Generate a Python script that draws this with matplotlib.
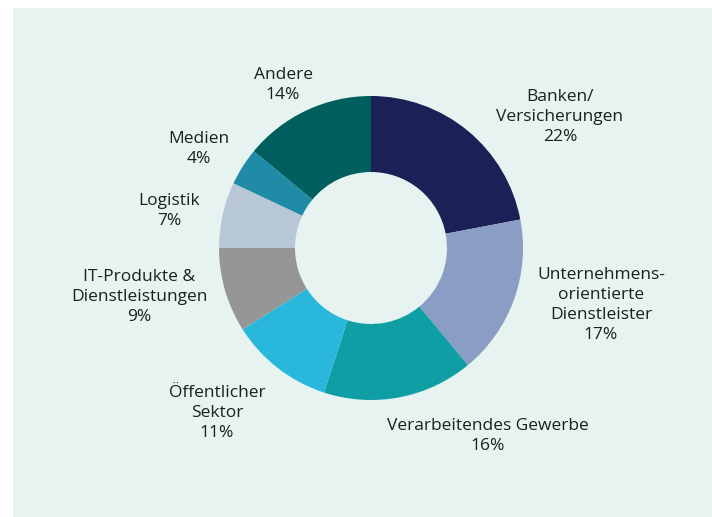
"""Donut chart: Verteilung nach Branchen."""

import matplotlib.pyplot as plt
from matplotlib.patches import Rectangle

plt.rcParams.update({
    "font.family": ["Open Sans", "DejaVu Sans"],
    "font.size": 12.5,
    "text.color": "#1e1e1e",
})

# ---------------------------------------------------------------------------
# Data
# ---------------------------------------------------------------------------
sectors = [
    "Banken/\nVersicherungen",
    "Unternehmens-\norientierte\nDienstleister",
    "Verarbeitendes Gewerbe",
    "Öffentlicher\nSektor",
    "IT-Produkte &\nDienstleistungen",
    "Logistik",
    "Medien",
    "Andere",
]
shares = [22, 17, 16, 11, 9, 7, 4, 14]

COLORS = [
    "#1b2157",  # Banken
    "#8a9dc4",  # Unternehmensorientierte DL
    "#0f9ea4",  # Verarbeitendes Gewerbe
    "#29b8dc",  # Öffentlicher Sektor
    "#969696",  # IT
    "#b8c7d6",  # Logistik
    "#1f8ba6",  # Medien
    "#005e5e",  # Andere
]

# label anchor points (pixel coords, origin top-left)
LABEL_POS = [
    (560, 117),
    (601, 305),
    (488, 436),
    (217, 413),
    (139, 297),
    (169, 211),
    (199, 149),
    (283, 85),
]

W, H = 712, 517
BG = "#e6f3f0"

fig = plt.figure(figsize=(W / 100, H / 100), dpi=100)
ax = fig.add_axes([0, 0, 1, 1])

# mint panel
ax.add_patch(Rectangle((13, 0), W - 13, H - 8, facecolor=BG, edgecolor="none", zorder=0))

ax.pie(
    shares,
    colors=COLORS,
    startangle=90,
    counterclock=False,
    center=(371, H - 248),
    radius=152,
    wedgeprops={"width": 76, "edgecolor": "none", "linewidth": 0},
    frame=True,
)
ax.set_xlim(0, W)
ax.set_ylim(0, H)
ax.set_aspect("equal")
ax.axis("off")

for name, share, (x, y) in zip(sectors, shares, LABEL_POS):
    ax.text(x, H - y, f"{name}\n{share}%", ha="center", va="center",
            linespacing=1.36, zorder=5)

fig.savefig("out.png", dpi=100, facecolor="white")
